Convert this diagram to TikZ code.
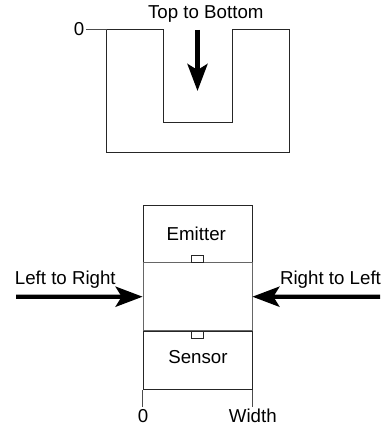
\documentclass[tikz,border=0pt]{standalone}
\usepackage{fontspec}
\setmainfont{Liberation Sans}
\usetikzlibrary{positioning, arrows.meta}

\tikzset{
  outline/.style={draw=black!85, line width=0.8pt},
  labeltext/.style={font=\fontsize{18.7}{20}\selectfont, inner sep=0pt},
  slotbox/.style={draw=black!85, line width=0.7pt, minimum width=109pt, inner sep=0pt},
  window/.style={draw=black!85, line width=0.7pt, minimum width=12.5pt, minimum height=6.5pt, inner sep=0pt},
  bigarrow/.style={line width=4.4pt, -{Stealth[length=27pt, width=20pt, inset=6pt]}},
  marker/.style={draw=black!70, line width=1pt}
}

\begin{document}
\begin{tikzpicture}[x=1pt, y=-1pt]
    \useasboundingbox (0,0) rectangle (380,427);

    % Draw top to bottom slot
    \draw[outline] (106.5,29.5) coordinate (ucorner) -- (163.5,29.5) -- (163.5,122.5) -- (232,122.5) -- (232,29.5) -- (289,29.5) -- (289,152.5) -- (106.5,152.5) -- cycle;
    \node[labeltext] (zerotop) at (79,29) {0};
    \draw[marker] (zerotop.east) ++(2,0.5) -- (ucorner);
    \node[labeltext] (toplabel) at (205.8,14.5) {Top to Bottom};
    \coordinate (downstart) at (197.5,30);
    \coordinate (downend) at (197.5,91);
    \draw[bigarrow] (downstart) -- (downend);

    % Draw emitter and sensor
    \node[slotbox, minimum height=57pt] (emitter) at (197.5,233.5) {};
    \node[slotbox, minimum height=68pt, draw=black!60, below=0pt of emitter] (gap) {};
    \node[slotbox, minimum height=58pt, below=0pt of gap] (sensor) {};
    \node[labeltext] (emittertext) at (196.3,233.5) {Emitter};
    \node[labeltext] (sensortext) at (198,357.2) {Sensor};
    \node[window, above=0pt of gap.north] (emitterwin) {};
    \node[window, below=0pt of gap.south] (sensorwin) {};

    % Draw side arrows
    \coordinate (leftstart) at (16,296.7);
    \coordinate (rightstart) at (380,296.7);
    \draw[bigarrow] (leftstart) -- (gap.west);
    \draw[bigarrow] (rightstart) -- (gap.east);
    \node[labeltext] (lefttext) at (65.3,279.5) {Left to Right};
    \node[labeltext] (righttext) at (330.5,279.5) {Right to Left};

    % Draw width scale below the sensor
    \foreach \name/\x/\txt in {zero/143/0, width/252.8/Width} {
      \node[labeltext] (\name) at (\x,416.2) {\txt};
    }
    \coordinate (zerostart) at (sensor.south west |- 0,390);
    \coordinate (widthstart) at (sensor.south east |- 0,390);
    \draw[marker] (zerostart) -- (zerostart |- 0,407);
    \draw[marker] (widthstart) -- (widthstart |- 0,407);
  \end{tikzpicture}
\end{document}
